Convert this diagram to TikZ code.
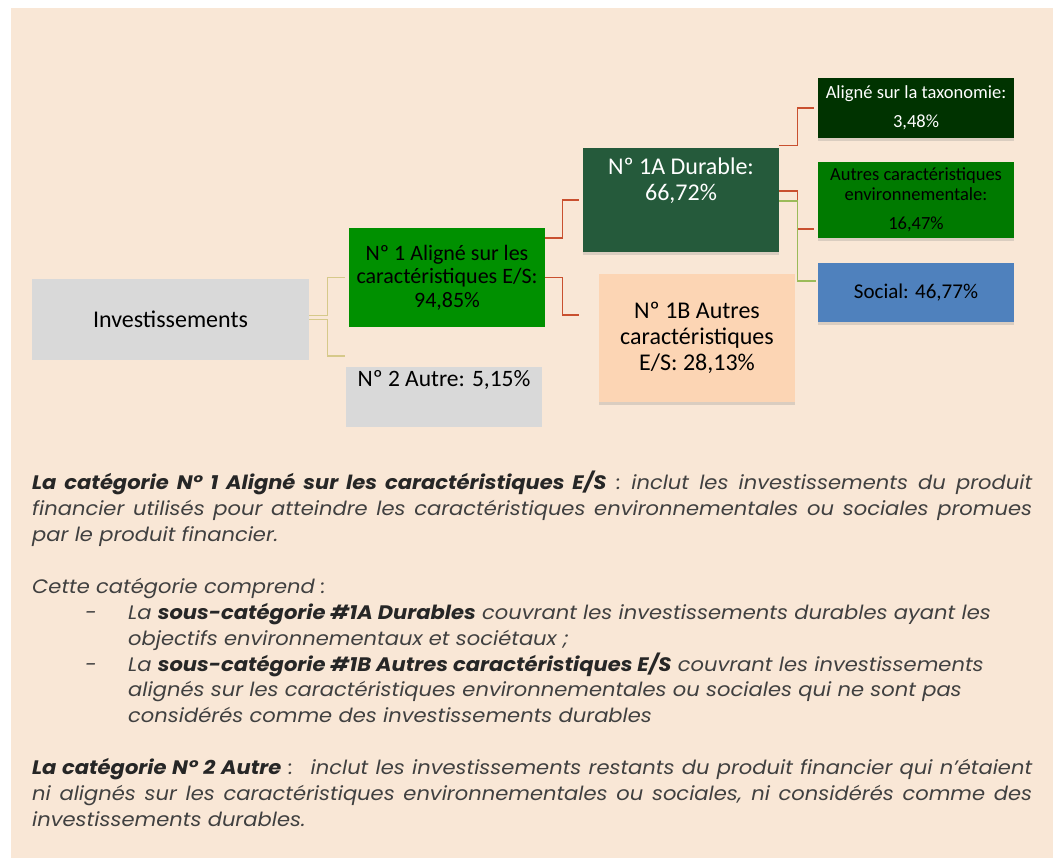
\documentclass[tikz,border=0pt]{standalone}
\usepackage{fontspec}
\setmainfont{Carlito}
\newfontfamily\notefont[FakeStretch=1.08]{Poppins}
\usetikzlibrary{shadows}

\definecolor{panel}{HTML}{F9E7D6}
\definecolor{greybox}{HTML}{D9D9D9}
\definecolor{alignc}{HTML}{009000}
\definecolor{durable}{HTML}{255A3B}
\definecolor{taxo}{HTML}{003300}
\definecolor{envc}{HTML}{007A00}
\definecolor{socialc}{HTML}{4F81BD}
\definecolor{autres}{HTML}{FCD5B4}
\definecolor{redline}{HTML}{C9502F}
\definecolor{tanline}{HTML}{D6C98A}
\definecolor{oliveline}{HTML}{9BBB59}
\definecolor{notegrey}{HTML}{404040}
\definecolor{notedark}{HTML}{262626}

\newcommand{\bfnote}[1]{{\bfseries\color{notedark}#1}}

\tikzset{
	box/.style={minimum width=196pt, inner sep=2pt, align=center, text=black},
	shade/.style={drop shadow={shadow xshift=0pt, shadow yshift=-3pt, opacity=0.25}},
	tanlink/.style={draw=tanline, line width=1.3pt, shorten >=4pt},
	redlink/.style={draw=redline, line width=1.4pt, shorten >=4pt},
	olivelink/.style={draw=oliveline, line width=1.4pt, shorten >=2pt},
}

\begin{document}
\begin{tikzpicture}[x=1pt,y=-1pt]
	\useasboundingbox (0,0) rectangle (1059,858);
	\fill[panel] (11,8) rectangle (1053,858);
	
	% left part
	\node[box, fill=greybox, minimum width=277pt, minimum height=81pt, font=\fontsize{24pt}{28pt}\selectfont] (inv) at (170.5,319.5) {Investissements};
	\node[box, fill=alignc, minimum height=99pt, font=\fontsize{22pt}{23.5pt}\selectfont] (n1) at (447,277.5) {Nº 1 Aligné sur les\\caractéristiques E/S:\\94,85\%};
	\node[box, fill=greybox, anchor=north, inner ysep=3pt, text height=16pt, text depth=38pt, font=\fontsize{23.5pt}{27pt}\selectfont] (n2) at (444,367) {Nº 2 Autre: 5,15\%};
	
	% middle
	\node[box, fill=durable, text=white, shade, inner sep=0pt, font=\fontsize{24pt}{26pt}\selectfont] (n1a) at (681,200) {\parbox[c][104pt][t]{196pt}{\centering\vspace*{10pt}Nº 1A Durable:\\66,72\%}};
	\node[box, fill=autres, shade, minimum height=128pt, font=\fontsize{24pt}{26pt}\selectfont] (n1b) at (697,338) {Nº 1B Autres\\caractéristiques\\E/S: 28,13\%};
	
	% right column
	\node[box, fill=taxo, text=white, shade, minimum height=60pt, font=\fontsize{18.5pt}{29pt}\selectfont] (tax) at (916,108) {Aligné sur la taxonomie:\\3,48\%};
	\node[box, fill=envc, shade, minimum height=76pt, font=\fontsize{18.5pt}{20pt}\selectfont] (env) at (916,200) {Autres caractéristiques\\environnementale:\\[9pt]16,47\%};
	\node[box, fill=socialc, shade, minimum height=59pt, font=\fontsize{21pt}{24pt}\selectfont] (soc) at (916,292.5) {Social: 46,77\%};
	
	\coordinate (n2in) at (349,356);
	\coordinate (n1bin) at (583,315);
	\coordinate (envin) at (818,229);
	\coordinate (socin) at (818,281);
	
	% links
	\draw[tanlink] ([yshift=4pt]inv.east) -- ++(18,0) |- (n1.west);
	\draw[tanlink] (inv.east) -- ++(18,0) |- (n2in);
	\draw[redlink] ([yshift=39.5pt]n1.east) -- ++(17,0) |- (n1a.west);
	\draw[redlink] (n1.east) -- ++(17,0) |- (n1bin);
	\draw[redlink] ([yshift=2pt]n1a.north east) -- ++(18,0) |- (tax.west);
	\draw[redlink] ([yshift=9pt]n1a.east) -- ++(18,0) |- (envin);
	\draw[olivelink] ([yshift=-1pt]n1a.east) -- ++(18,0) |- (socin);
	
	% notes
	\node[anchor=north west, inner sep=0pt, text width=1000pt, align=justify, text=notegrey, font=\notefont\itshape\fontsize{19.5pt}{25.9pt}\selectfont] (notes) at (32,471) {\parskip=0pt
		\bfnote{La catégorie N° 1 Aligné sur les caractéristiques E/S} : inclut les investissements du produit\linebreak
		financier utilisés pour atteindre les caractéristiques environnementales ou sociales promues\linebreak
		par le produit financier.\par
		\vspace{25.9pt}
		\noindent Cette catégorie comprend :\par
		{\raggedright\hangindent=96pt\hangafter=0\noindent\llap{\makebox[43pt][l]{-}}La \bfnote{sous-catégorie \#1A Durables} couvrant les investissements durables ayant les\newline
		objectifs environnementaux et sociétaux ;\par
		\hangindent=96pt\hangafter=0\noindent\llap{\makebox[43pt][l]{-}}La \bfnote{sous-catégorie \#1B Autres caractéristiques E/S} couvrant les investissements\newline
		alignés sur les caractéristiques environnementales ou sociales qui ne sont pas\newline
		considérés comme des investissements durables\par}
		\vspace{25.9pt}
		\noindent\bfnote{La catégorie N° 2 Autre} :~ inclut les investissements restants du produit financier qui n’étaient\linebreak
		ni alignés sur les caractéristiques environnementales ou sociales, ni considérés comme des\linebreak
		investissements durables.\par};
\end{tikzpicture}
\end{document}
